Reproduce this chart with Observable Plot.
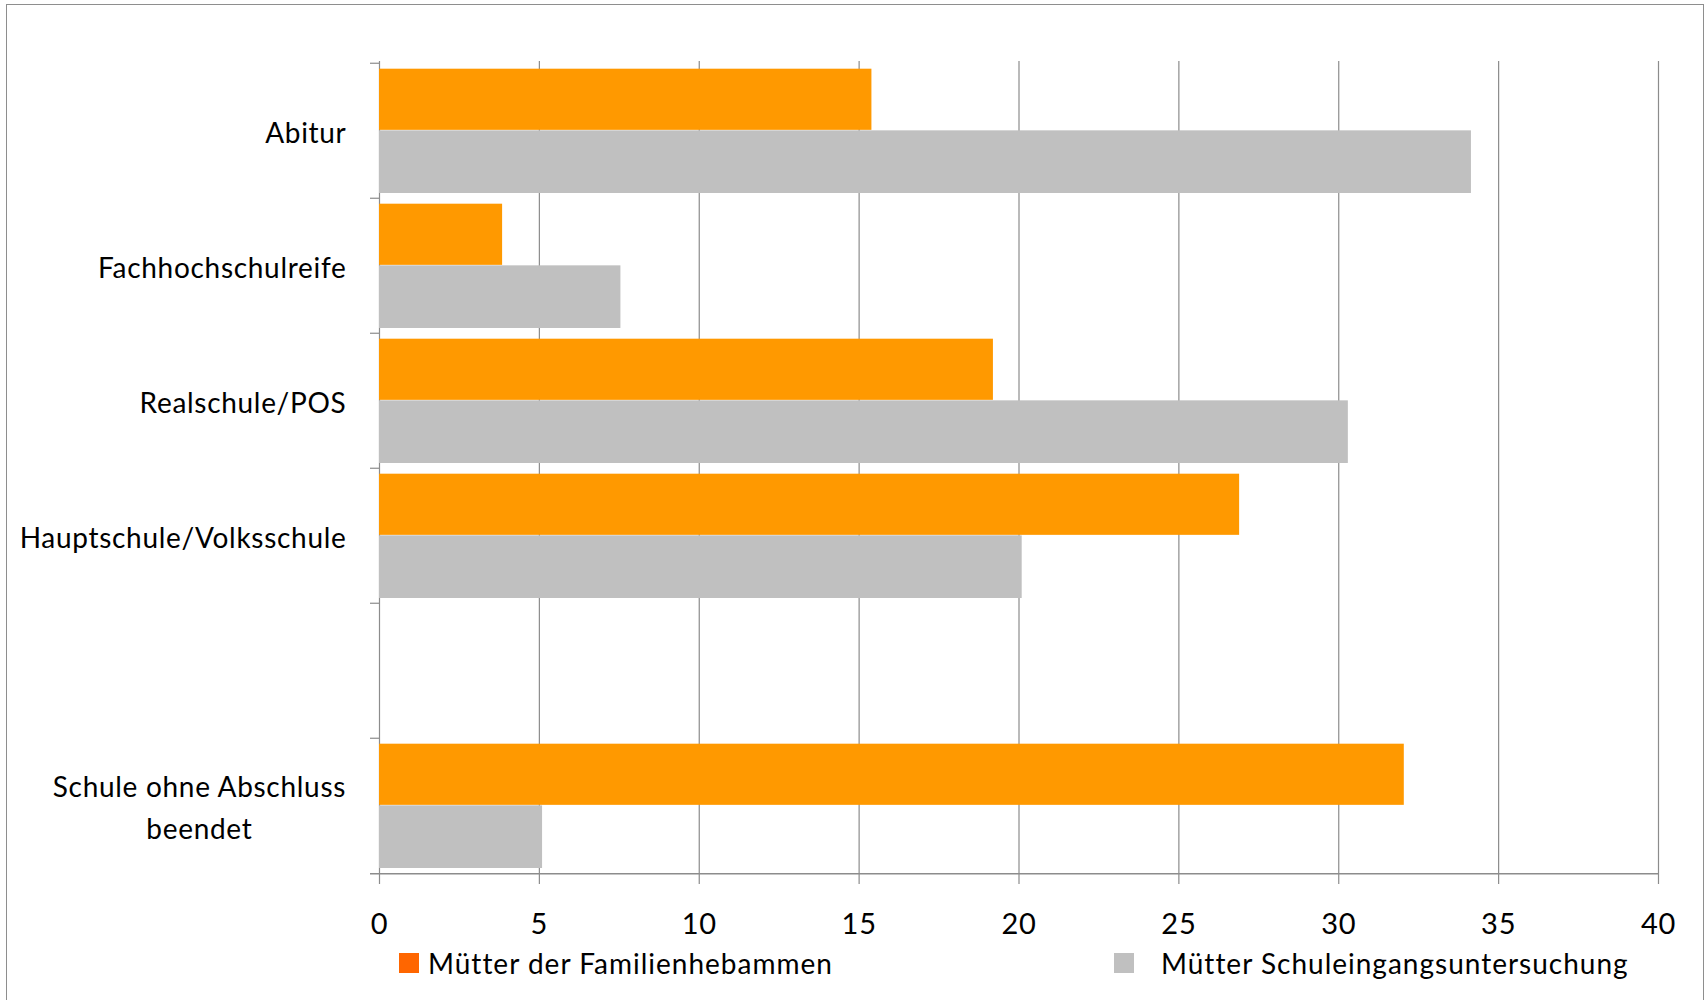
<!DOCTYPE html>
<html>
<head>
<meta charset="utf-8">
<script src="https://cdn.jsdelivr.net/npm/d3@7"></script>
<script src="https://cdn.jsdelivr.net/npm/@observablehq/plot@0.6"></script>
<style>
  body { margin: 0; background: #fff; font-family: Lato, "Open Sans", sans-serif; }
  #wrap { position: relative; width: 1706px; height: 1000px; overflow: hidden; background: #fff; }
  #chart { position: absolute; left: 0; top: 0; }
  #frame { position: absolute; left: 6px; top: 4px; width: 1698px; height: 1020px;
           border: 1.5px solid #8e8e8e; box-sizing: border-box; pointer-events: none; }
  #legend { position: absolute; left: 0; top: 0; width: 1706px; height: 1000px; pointer-events: none; }
  .item { position: absolute; top: 947px; display: flex; align-items: center; height: 32px;
          font-size: 28px; letter-spacing: 1px; color: #000; white-space: nowrap; }
  .sw { width: 20px; height: 20px; }
  #chart svg text { letter-spacing: 0.7px; }
</style>
</head>
<body>
<div id="wrap">
  <div id="chart"></div>
  <div id="legend"></div>
  <div id="frame"></div>
</div>
<script>
// School-leaving qualification of mothers (percent), two comparison groups
const categories = [
  "Abitur",
  "Fachhochschulreife",
  "Realschule/POS",
  "Hauptschule/Volksschule",
  "",
  "Schule ohne Abschluss\nbeendet"
];
const seriesNames = ["Mütter der Familienhebammen", "Mütter Schuleingangsuntersuchung"];
const familienhebammen = [15.4, 3.85, 19.2, 26.9, null, 32.05];
const schuleingang = [34.15, 7.55, 30.3, 20.1, null, 5.1];
const xTicks = [0, 5, 10, 15, 20, 25, 30, 35, 40];
const seriesColors = ["#FF9900", "#C0C0C0"];
const legendColors = ["#FF6600", "#C0C0C0"];

const width = 1706;
const height = 945;
const marginLeft = 379;
const marginRight = 48;
const marginTop = 61;
const marginBottom = height - 874;
const band = (height - marginTop - marginBottom) / categories.length;

const labelFont = "28px Lato, 'Open Sans', sans-serif";
const labelSize = 28;
const labelTracking = 0.7;
const labelGap = 33;

const rows = categories.map((category, i) => ({
  category,
  a: familienhebammen[i],
  b: schuleingang[i]
}));
const rowsA = rows.filter(d => d.a != null);
const rowsB = rows.filter(d => d.b != null);
const singleLine = rows.filter(d => !d.category.includes("\n"));
const multiLine = rows.filter(d => d.category.includes("\n"));

// width of the widest line of a wrapped label, so its lines can be centred
// on each other while the block still ends at the same right edge
const ctx = document.createElement("canvas").getContext("2d");
ctx.font = labelFont;
const lineWidth = s => ctx.measureText(s).width + s.length * labelTracking;
const blockWidth = multiLine.length
  ? d3.max(multiLine, d => d3.max(d.category.split("\n"), lineWidth))
  : 0;

const gridColor = "#8c8c8c";

const chart = Plot.plot({
  width,
  height,
  marginLeft,
  marginRight,
  marginTop,
  marginBottom,
  style: { fontFamily: "Lato, 'Open Sans', sans-serif", fontSize: "29px", color: "#000", background: "transparent" },
  x: {
    domain: [0, 40],
    ticks: xTicks,
    tickSize: 0,
    tickPadding: 39,
    label: null
  },
  y: {
    domain: categories,
    padding: 0,
    axis: null
  },
  marks: [
    // vertical gridlines, each running 10px below the axis as a tick
    Plot.ruleX(xTicks, { stroke: gridColor, strokeWidth: 1.2, insetBottom: -10 }),
    // bars: orange upper half, grey lower half of each category band
    Plot.barX(rowsA, {
      x: "a", y: "category", fill: seriesColors[0],
      insetTop: band * 0.042, insetBottom: band * 0.503
    }),
    Plot.barX(rowsB, {
      x: "b", y: "category", fill: seriesColors[1],
      insetTop: band * 0.497, insetBottom: band * 0.037
    }),
    // category boundary ticks on the left of the axis
    Plot.ruleY(categories, {
      y: d => d, x1: 0, x2: 0, insetLeft: -9, dy: -band / 2,
      stroke: gridColor, strokeWidth: 1.2
    }),
    // x axis baseline
    Plot.ruleY([categories[categories.length - 1]], {
      y: d => d, x1: 0, x2: 40, insetLeft: -9, dy: band / 2,
      stroke: gridColor, strokeWidth: 1.5
    }),
    // category labels, single line: right-aligned
    Plot.text(singleLine, {
      y: "category", text: "category", frameAnchor: "left",
      textAnchor: "end", dx: -labelGap, dy: -1, lineHeight: 1.5,
      fontSize: labelSize, fill: "#000"
    }),
    // category labels, wrapped: lines centred on each other
    Plot.text(multiLine, {
      y: "category", text: "category", frameAnchor: "left",
      textAnchor: "middle", dx: -labelGap - blockWidth / 2, dy: -1, lineHeight: 1.5,
      fontSize: labelSize, fill: "#000"
    })
  ]
});
document.getElementById("chart").appendChild(chart);

// legend below the plot
const legend = document.getElementById("legend");
const legendLeft = [399, 1114];
seriesNames.forEach((name, i) => {
  const item = document.createElement("div");
  item.className = "item";
  item.style.left = legendLeft[i] + "px";
  const sw = document.createElement("span");
  sw.className = "sw";
  sw.style.background = legendColors[i];
  sw.style.marginRight = (i === 0 ? 9 : 27) + "px";
  const label = document.createElement("span");
  label.textContent = name;
  item.appendChild(sw);
  item.appendChild(label);
  legend.appendChild(item);
});
</script>
</body>
</html>
